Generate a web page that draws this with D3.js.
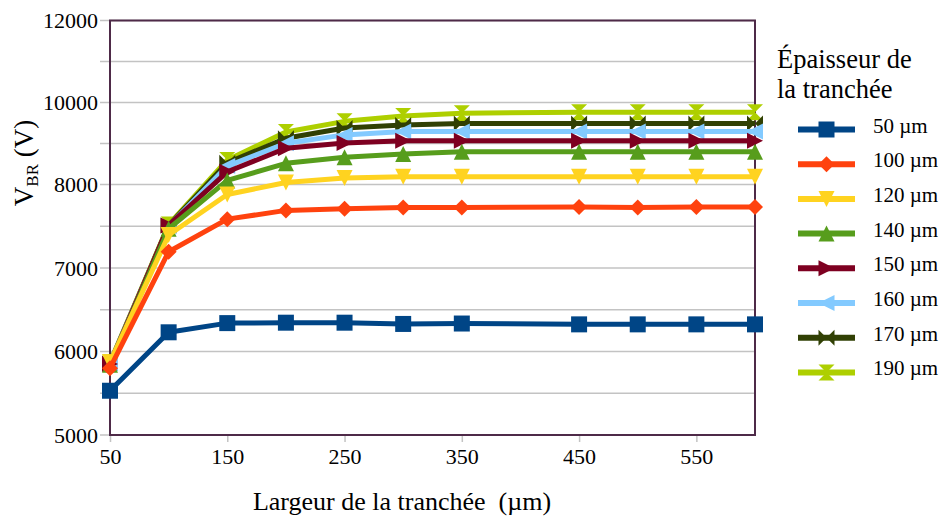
<!DOCTYPE html>
<html>
<head>
<meta charset="utf-8">
<script src="https://cdn.jsdelivr.net/npm/d3@7"></script>
<style>
  html, body { margin: 0; padding: 0; background: #ffffff; }
  svg { display: block; }
  svg text { font-family: "Liberation Serif", Tinos, "Times New Roman", Times, "Noto Serif", "DejaVu Serif", serif !important; fill: #000; }
</style>
</head>
<body>
<svg id="chart" width="947" height="521"></svg>
<script>
// ---------------- data ----------------
const widths = [50, 100, 150, 200, 250, 300, 350, 450, 500, 550, 600]; // Largeur de la tranchée (µm)

const seriesNames = ["50 µm", "100 µm", "120 µm", "140 µm", "150 µm", "160 µm", "170 µm", "190 µm"];

const v50  = [5530, 6230, 6340, 6345, 6345, 6330, 6335, 6325, 6325, 6325, 6325];
const v100 = [5800, 7195, 7585, 7690, 7710, 7725, 7725, 7730, 7725, 7730, 7730];
const v120 = [5870, 7395, 7880, 8050, 8160, 8190, 8190, 8190, 8190, 8190, 8190];
const v140 = [5840, 7470, 8100, 8517, 8663, 8744, 8800, 8800, 8800, 8800, 8800];
const v150 = [5850, 7510, 8310, 8883, 9010, 9070, 9070, 9070, 9070, 9070, 9070];
const v160 = [5860, 7500, 8450, 9005, 9210, 9290, 9290, 9290, 9290, 9290, 9290];
const v170 = [5860, 7510, 8530, 9127, 9380, 9450, 9490, 9490, 9490, 9490, 9490];
const v190 = [5870, 7520, 8600, 9280, 9540, 9670, 9740, 9760, 9760, 9760, 9760];

const seriesValues = [v50, v100, v120, v140, v150, v160, v170, v190];

const xTickValues = [50, 150, 250, 350, 450, 550];
const yGridValues = [5000, 5500, 6000, 6500, 7000, 7500, 8000, 9000, 10000, 11000, 12000];
const yLabelValues = [5000, 6000, 7000, 8000, 10000, 12000];

const colors  = ["#004586", "#ff420e", "#ffd320", "#579d1c", "#7e0021", "#83caff", "#314004", "#aecf00"];
const symbols = ["square", "diamond", "down", "up", "right", "left", "bowtie", "hourglass"];

// ---------------- layout ----------------
const FONT = '"Liberation Serif", Tinos, "Times New Roman", Times, "Noto Serif", "DejaVu Serif", serif';
const svg = d3.select("#chart");
const plot = { left: 110, right: 755, top: 20.5, bottom: 435 };

const x = d3.scaleLinear().domain([50, 600]).range([plot.left, plot.right]);
// the axis of the reference is piecewise: 500 V per grid step below 8000, 1000 V above
const y = d3.scaleLinear().domain([5000, 8000, 12000]).range([plot.bottom, 184.5, plot.top]);

function symbolPath(kind, h) {
  switch (kind) {
    case "square":   return `M${-h},${-h}H${h}V${h}H${-h}Z`;
    case "diamond":  return `M0,${-h}L${h},0L0,${h}L${-h},0Z`;
    case "down":     return `M${-h},${-h}L${h},${-h}L0,${h}Z`;
    case "up":       return `M${-h},${h}L${h},${h}L0,${-h}Z`;
    case "right":    return `M${-h},${-h}L${h},0L${-h},${h}Z`;
    case "left":     return `M${h},${-h}L${-h},0L${h},${h}Z`;
    case "bowtie":   return `M${-h},${-h}L0,0L${-h},${h}ZM${h},${-h}L0,0L${h},${h}Z`;
    case "hourglass":return `M${-h},${-h}L${h},${-h}L0,0ZM${-h},${h}L${h},${h}L0,0Z`;
  }
}

// gridlines
svg.append("g").selectAll("line").data(yGridValues).join("line")
  .attr("x1", plot.left - 10).attr("x2", plot.right)
  .attr("y1", d => y(d)).attr("y2", d => y(d))
  .attr("stroke", "#c3c3c3").attr("stroke-width", 1.5);

// y axis labels
const yAxis = d3.axisLeft(y).tickValues(yLabelValues).tickSize(0).tickPadding(12)
  .tickFormat(d3.format("d"));
const gy = svg.append("g").attr("transform", `translate(${plot.left},0)`).call(yAxis)
  .attr("font-family", FONT);
gy.select(".domain").remove();
gy.selectAll("text").attr("font-size", 22);

// x axis
const xAxis = d3.axisBottom(x).tickValues(xTickValues).tickSize(7).tickPadding(6)
  .tickFormat(d3.format("d"));
const gx = svg.append("g").attr("transform", `translate(0,${plot.bottom})`).call(xAxis)
  .attr("font-family", FONT);
gx.select(".domain").remove();
gx.selectAll("line").attr("stroke", "#c3c3c3").attr("stroke-width", 1.5);
gx.selectAll("text").attr("font-size", 22);

// frame
svg.append("rect")
  .attr("x", plot.left).attr("y", plot.top)
  .attr("width", plot.right - plot.left).attr("height", plot.bottom - plot.top)
  .attr("fill", "none").attr("stroke", "#4e2a48").attr("stroke-width", 2);

// series (drawn from last to first so thinner trenches sit on top)
const line = d3.line().x((d, i) => x(widths[i])).y(d => y(d));
const order = d3.range(seriesValues.length).reverse();
order.forEach(k => {
  const g = svg.append("g");
  g.append("path").datum(seriesValues[k])
    .attr("d", line)
    .attr("fill", "none").attr("stroke", colors[k]).attr("stroke-width", 5)
    .attr("stroke-linejoin", "round");
  g.selectAll("path.m").data(seriesValues[k]).join("path").attr("class", "m")
    .attr("transform", (d, i) => `translate(${x(widths[i])},${y(d)})`)
    .attr("d", symbolPath(symbols[k], 8))
    .attr("fill", colors[k]);
});

// axis titles
svg.append("text")
  .attr("x", 402).attr("y", 510).attr("text-anchor", "middle")
  .attr("font-family", FONT).attr("font-size", 26)
  .style("white-space", "pre")
  .text("Largeur de la tranchée  (µm)");

const yt = svg.append("text")
  .attr("transform", "translate(33,163) rotate(-90)")
  .attr("text-anchor", "middle").attr("font-family", FONT).attr("font-size", 27);
yt.append("tspan").text("V");
yt.append("tspan").attr("font-size", 17).attr("dy", 5).text("BR");
yt.append("tspan").attr("dy", -5).text(" (V)");

// legend
const leg = svg.append("g").attr("font-family", FONT);
leg.append("text").attr("x", 777).attr("y", 68).attr("font-size", 26.5).text("Épaisseur de");
leg.append("text").attr("x", 777).attr("y", 98).attr("font-size", 26.5).text("la tranchée");

const legY0 = 129.5, legStep = 34.7;
seriesNames.forEach((name, k) => {
  const yy = legY0 + k * legStep;
  leg.append("line")
    .attr("x1", 798).attr("x2", 855).attr("y1", yy).attr("y2", yy)
    .attr("stroke", colors[k]).attr("stroke-width", 6);
  leg.append("path")
    .attr("transform", `translate(826.5,${yy})`)
    .attr("d", symbolPath(symbols[k], 8))
    .attr("fill", colors[k]);
  leg.append("text").attr("x", 873).attr("y", yy + 3).attr("font-size", 21).text(name);
});
</script>
</body>
</html>
